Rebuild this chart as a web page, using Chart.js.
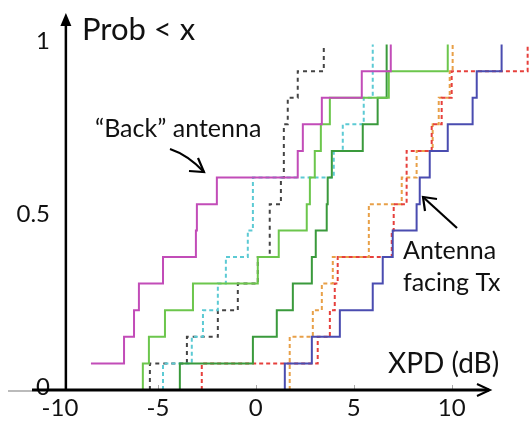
<!DOCTYPE html>
<html>
<head>
<meta charset="utf-8">
<script src="https://cdn.jsdelivr.net/npm/chart.js@4.4.1/dist/chart.umd.min.js"></script>
<style>
  html, body { margin: 0; padding: 0; background: #fff; }
  #wrap { width: 530px; height: 425px; }
</style>
</head>
<body>
<div id="wrap"><canvas id="xpdChart" width="530" height="425"></canvas></div>
<script>
// CDF levels, 13 samples per curve
const levels = [0, 0.077, 0.154, 0.231, 0.308, 0.385, 0.462, 0.538, 0.615, 0.692, 0.769, 0.846, 0.923, 1];
const xTicks = [-10, -5, 0, 5, 10];
const yTicks = [0, 0.5, 1];

// XPD (dB) where each curve goes up one level
const magentaSteps = [-8.42, -6.73, -6.22, -5.97, -4.74, -3.06, -3.01, -1.99, 2.14, 2.40, 3.37, 5.41, 6.89];
const lightGreenSteps = [-5.77, -5.46, -4.64, -3.21, 0.10, 1.17, 2.60, 2.76, 3.01, 3.32, 3.78, 6.79, 9.80];
const darkGreenSteps = [-3.88, -0.15, 1.07, 1.89, 2.86, 3.06, 3.62, 3.67, 3.88, 5.46, 6.22, 6.68, 6.68];
const cyanSteps = [-4.74, -3.27, -2.70, -1.94, -1.53, -0.41, -0.15, -0.15, 3.98, 4.44, 5.51, 5.97, 5.97];
const blackSteps = [-5.41, -3.52, -1.94, -0.92, 0.10, 0.71, 0.71, 1.28, 1.43, 1.43, 1.63, 2.14, 3.47];
const blueSteps = [1.48, 2.86, 4.29, 5.97, 6.48, 6.99, 8.21, 8.37, 8.88, 9.80, 11.07, 11.28, 12.55];
const redSteps = [-2.76, 3.16, 3.78, 4.03, 4.18, 6.94, 7.04, 7.70, 7.70, 8.98, 9.49, 10.00, 13.88];
const orangeSteps = [1.73, 1.73, 2.91, 3.37, 3.93, 5.77, 5.77, 7.45, 8.21, 9.03, 9.34, 9.90, 10.05];

function cdfPoints(steps, fromZero) {
    const pts = steps.map((v, i) => ({ x: v, y: levels[i + 1] }));
    if (fromZero) pts.unshift({ x: steps[0], y: levels[0] });
    return pts;
}

function curve(steps, color, dash, fromZero) {
    return {
        data: cdfPoints(steps, fromZero),
        borderColor: color,
        borderWidth: 2,
        borderDash: dash,
        showLine: true,
        stepped: true,
        pointRadius: 0,
        fill: false
    };
}

const FONT = 'Lato, "Open Sans", sans-serif';

// axes with arrows + annotations
const overlay = {
    id: 'overlay',
    afterDatasetsDraw(chart) {
        const ctx = chart.ctx;
        const xs = chart.scales.x;
        const ys = chart.scales.y;
        const axisY = ys.getPixelForValue(0);
        const axisX = xs.getPixelForValue(-9.7);
        ctx.save();

        // small tick marks
        ctx.strokeStyle = '#aaa';
        ctx.lineWidth = 1;
        xTicks.forEach(t => {
            if (t < -9.7) return;
            const px = Math.round(xs.getPixelForValue(t)) + 0.5;
            ctx.beginPath();
            ctx.moveTo(px, axisY - 5);
            ctx.lineTo(px, axisY);
            ctx.stroke();
        });

        // x axis
        ctx.strokeStyle = '#bbb';
        ctx.lineWidth = 2;
        ctx.beginPath();
        ctx.moveTo(8, axisY + 1);
        ctx.lineTo(32, axisY + 1);
        ctx.stroke();
        ctx.strokeStyle = '#000';
        ctx.lineWidth = 3;
        ctx.beginPath();
        ctx.moveTo(32, axisY);
        ctx.lineTo(489, axisY);
        ctx.stroke();
        ctx.lineWidth = 2;
        ctx.beginPath();
        ctx.moveTo(477, axisY - 6);
        ctx.lineTo(490, axisY);
        ctx.lineTo(477, axisY + 6);
        ctx.stroke();

        // y axis
        ctx.lineWidth = 2.5;
        ctx.beginPath();
        ctx.moveTo(axisX, axisY);
        ctx.lineTo(axisX, 24);
        ctx.stroke();
        ctx.fillStyle = '#000';
        ctx.beginPath();
        ctx.moveTo(axisX, 13);
        ctx.lineTo(axisX - 5.5, 26);
        ctx.lineTo(axisX + 5.5, 26);
        ctx.closePath();
        ctx.fill();

        // texts
        ctx.fillStyle = '#111';
        ctx.textAlign = 'left';
        ctx.textBaseline = 'alphabetic';
        ctx.font = '31px ' + FONT;
        ctx.fillText('Prob < x', 82, 40);
        ctx.font = '25px ' + FONT;
        ctx.fillText('\u201cBack\u201d antenna', 95, 137);
        ctx.fillText('Antenna', 403, 259);
        ctx.fillText('facing Tx', 403, 291);
        ctx.font = '28px ' + FONT;
        ctx.fillText('XPD (dB)', 388, 373);

        // pointer arrows
        ctx.strokeStyle = '#000';
        ctx.lineWidth = 2.2;
        ctx.beginPath();
        ctx.moveTo(170, 149);
        ctx.quadraticCurveTo(188, 155, 204, 172);
        ctx.stroke();
        ctx.beginPath();
        ctx.moveTo(189, 171);
        ctx.lineTo(204, 172);
        ctx.lineTo(198, 158);
        ctx.stroke();

        ctx.beginPath();
        ctx.moveTo(457, 228);
        ctx.lineTo(423, 197);
        ctx.stroke();
        ctx.beginPath();
        ctx.moveTo(437, 199);
        ctx.lineTo(423, 197);
        ctx.lineTo(425, 211);
        ctx.stroke();

        ctx.restore();
    }
};

new Chart(document.getElementById('xpdChart'), {
    type: 'scatter',
    data: {
        datasets: [
            curve(magentaSteps, '#c24cb8', [], false),
            curve(lightGreenSteps, '#6cc64c', [], true),
            curve(darkGreenSteps, '#3a9a3c', [], true),
            curve(blueSteps, '#4a4cb0', [], true),
            curve(cyanSteps, '#5ccad4', [4, 3], true),
            curve(blackSteps, '#444444', [4, 4], true),
            curve(redSteps, '#e6403c', [4, 3], true),
            curve(orangeSteps, '#e8a048', [4, 3], true)
        ]
    },
    options: {
        responsive: false,
        animation: false,
        layout: { padding: { top: 10, right: 0, left: 0, bottom: 0 } },
        plugins: {
            legend: { display: false },
            tooltip: { enabled: false }
        },
        scales: {
            x: {
                type: 'linear',
                min: -10,
                max: 14,
                grid: { display: false },
                border: { display: false },
                afterBuildTicks: (scale) => { scale.ticks = xTicks.map(v => ({ value: v })); },
                afterFit: (scale) => { scale.height = 35; scale.paddingLeft = 0; scale.paddingRight = 0; },
                ticks: {
                    color: '#111',
                    padding: -2,
                    maxRotation: 0,
                    autoSkip: false,
                    font: { family: FONT, size: 24, lineHeight: 1 },
                    callback: (v) => String(v)
                }
            },
            y: {
                type: 'linear',
                min: 0,
                max: 1.1,
                grid: { display: false },
                border: { display: false },
                afterBuildTicks: (scale) => { scale.ticks = yTicks.map(v => ({ value: v })); },
                afterFit: (scale) => { scale.width = 60; scale.paddingTop = 0; scale.paddingBottom = 0; },
                ticks: {
                    color: '#111',
                    padding: 2,
                    labelOffset: -3,
                    font: { family: FONT, size: 24 },
                    callback: (v) => String(v)
                }
            }
        }
    },
    plugins: [overlay]
});
</script>
</body>
</html>
